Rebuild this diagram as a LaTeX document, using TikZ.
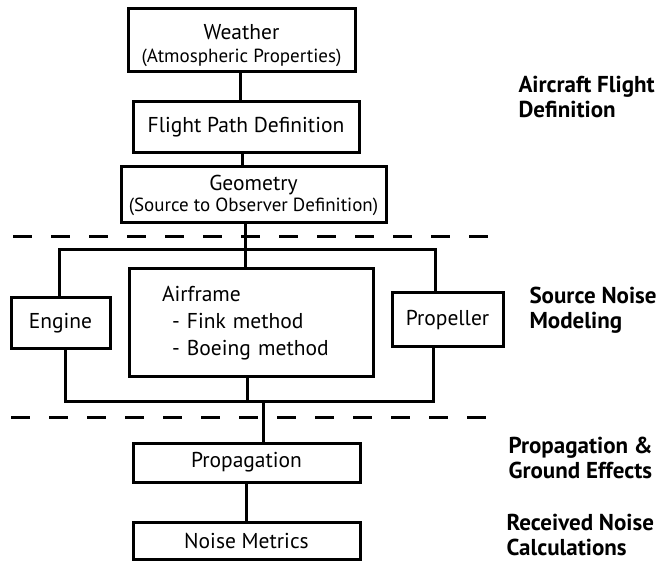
\documentclass[tikz,border=0pt]{standalone}
\usepackage{fontspec}
\setmainfont{PT Sans}
\usepackage{tikz}
\usetikzlibrary{positioning, calc}

\tikzset{
  box/.style={draw, line width=3pt, inner sep=0pt, align=center, font=\fontsize{21.5}{25}\selectfont},
  link/.style={line width=3pt},
  divider/.style={line width=3pt, dash pattern=on 19pt off 19pt},
  stage/.style={anchor=west, align=left, font=\bfseries\fontsize{23}{25.5}\selectfont}
}

\begin{document}
\begin{tikzpicture}[x=1pt, y=-1pt]
    \useasboundingbox (0,0) rectangle (659,561);

    % Flight definition boxes
    \node[box, minimum width=227pt, minimum height=63pt] (weather) at (241.5,40.5) {\rule{0pt}{25pt}Weather\\[-2pt]{\fontsize{19}{21}\selectfont (Atmospheric Properties)}};
    \node[box, minimum width=226pt, minimum height=51pt] (flight) at (246,127.5) {Flight Path Definition};
    \node[box, minimum width=265pt, minimum height=56pt] (geometry) at (253.5,195) {Geometry\\[-4pt]{\fontsize{19}{21}\selectfont (Source to Observer Definition)}};

    % Source boxes
    \node[box, minimum width=99pt, minimum height=51pt] (engine) at (60.5,323.5) {Engine};
    \node[box, minimum width=244pt, minimum height=108pt, align=left, text width=178pt, inner xsep=33pt,
          font=\fontsize{21.5}{27}\selectfont] (airframe) at (251,323) {Airframe\\\hspace*{10pt}- Fink method\\\hspace*{10pt}- Boeing method};
    \node[box, minimum width=111pt, minimum height=54pt] (propeller) at (447.5,320) {Propeller};

    % Propagation boxes
    \node[box, minimum width=227pt, minimum height=39pt] (propagation) at (246.5,462.5) {Propagation};
    \node[box, minimum width=227pt, minimum height=37pt] (metrics) at (246.5,540.5) {Noise Metrics};

    % Junctions
    \coordinate (split) at (245,250);
    \coordinate (merge) at (263,402);

    % Connectors
    \draw[link] ([xshift=-1.5pt]weather.south) -- ([xshift=-1.5pt]weather.south |- flight.north);
    \draw[link] ([xshift=-4pt]flight.south) -- ([xshift=-4pt]flight.south |- geometry.north);
    \draw[link] (split |- geometry.south) -- (split);
    \draw[link] (split) -- (split |- airframe.north);
    \draw[link] ([xshift=-1.5pt]engine.north) |- (split) -| ([xshift=-12.5pt]propeller.north);
    \draw[link] ([xshift=4.5pt]engine.south) |- (merge) -| ([xshift=-14.5pt]propeller.south);
    \draw[link] ([xshift=-4pt]airframe.south) -- ([xshift=-4pt]airframe.south |- merge);
    \draw[link] (merge) -- (merge |- propagation.north);
    \draw[link] (propagation.south) -- (metrics.north);

    % Dividers
    \draw[divider] (13,237) -- (495,237);
    \draw[divider] (11,417) -- (492,417);

    % Stage labels
    \node[stage] (lblflight) at (515,97) {Aircraft Flight\\Definition};
    \node[stage] (lblsource) at (526,310) {Source Noise\\Modeling};
    \node[stage] (lblprop) at (505,458) {Propagation \&\\Ground Effects};
    \node[stage] (lblrecv) at (503,535) {Received Noise\\Calculations};
\end{tikzpicture}
\end{document}
